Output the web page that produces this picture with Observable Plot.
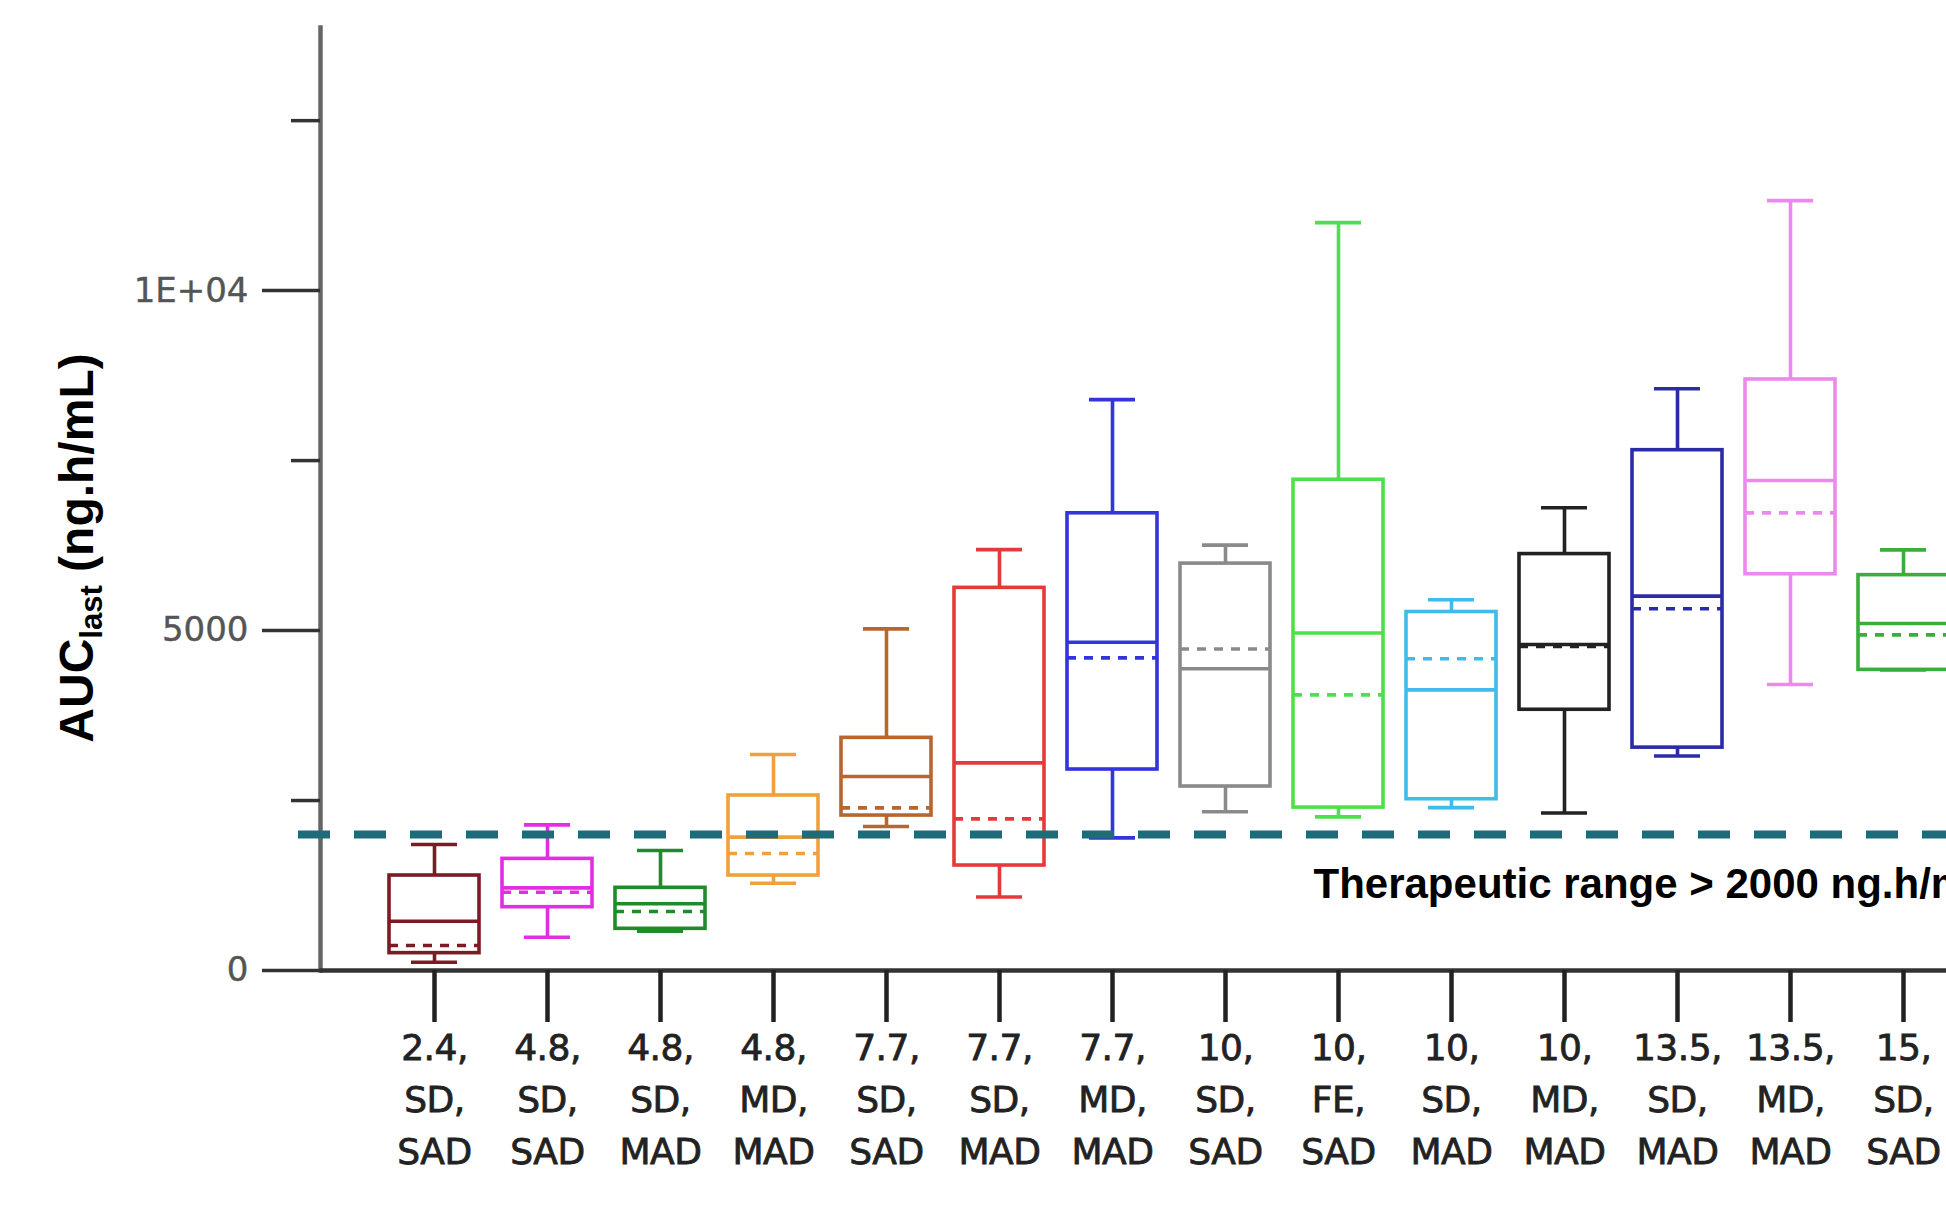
<!DOCTYPE html>
<html>
<head>
<meta charset="utf-8">
<script src="https://cdn.jsdelivr.net/npm/d3@7"></script>
<script src="https://cdn.jsdelivr.net/npm/@observablehq/plot@0.6"></script>
<style>
html, body { margin: 0; padding: 0; background: #fff; overflow: hidden; }
#chart { width: 1946px; height: 1210px; overflow: hidden; position: relative; background: #fff; }
#chart svg { max-width: none !important; }
</style>
</head>
<body>
<div id="chart"></div>
<script>
// Categories (dose, regimen, study)
const categories = [
  "2.4,\nSD,\nSAD", "4.8,\nSD,\nSAD", "4.8,\nSD,\nMAD", "4.8,\nMD,\nMAD",
  "7.7,\nSD,\nSAD", "7.7,\nSD,\nMAD", "7.7,\nMD,\nMAD", "10,\nSD,\nSAD",
  "10,\nFE,\nSAD", "10,\nSD,\nMAD", "10,\nMD,\nMAD", "13.5,\nSD,\nMAD",
  "13.5,\nMD,\nMAD", "15,\nSD,\nSAD"
];
// Box statistics (AUClast, ng.h/mL)
const whiskerLow  = [122, 490, 578, 1284, 2118, 1080, 1951, 2334, 2259, 2396, 2316, 3154, 4206, 4422];
const quartile1   = [255, 931, 613, 1397, 2279, 1544, 2956, 2706, 2396, 2519, 3835, 3278, 5828, 4422];
const medians     = [725, 1216, 981, 1961, 2853, 3054, 4828, 4438, 4965, 4127, 4794, 5506, 7207, 5103];
const means       = [368, 1152, 868, 1720, 2392, 2230, 4598, 4729, 4054, 4586, 4765, 5321, 6731, 4937];
const quartile3   = [1397, 1642, 1216, 2574, 3422, 5628, 6725, 5985, 7218, 5273, 6125, 7653, 8693, 5815];
const whiskerHigh = [1853, 2142, 1765, 3176, 5025, 6191, 8397, 6257, 11000, 5453, 6806, 8557, 11324, 6187];
const boxColors   = ["#7b1c24", "#e22ee2", "#1e8c2a", "#f0a03c", "#b8652e", "#e53a3a", "#3434dc",
                     "#8a8a8a", "#4ce04c", "#40bce8", "#222222", "#2b2ba8", "#ee88ee", "#3aae3a"];

// Axis ticks
const yMajorTicks = [0, 5000, 10000];
const yTickLabels = ["0", "5000", "1E+04"];
const yMinorTicks = [2500, 7500, 12500];

// Threshold
const threshold = 2000;
const thresholdLabel = "Therapeutic range > 2000 ng.h/mL";

const data = categories.map((c, i) => ({
  cat: c, lo: whiskerLow[i], q1: quartile1[i], med: medians[i], mean: means[i],
  q3: quartile3[i], hi: whiskerHigh[i], color: boxColors[i]
}));

const sw = 3.6;
const plot = Plot.plot({
  width: 2040,
  height: 1210,
  marginLeft: 320,
  marginRight: 24,
  marginTop: 27,
  marginBottom: 240,
  style: { background: "white", overflow: "visible", maxWidth: "none" },
  x: { type: "band", domain: categories, paddingInner: 0.204, paddingOuter: 0.601, label: null },
  y: { domain: [0, 13870], label: null },
  color: { type: "identity" },
  marks: [
    Plot.frame({ anchor: "left", stroke: "#666", strokeWidth: 4.5 }),
    Plot.axisY({ ticks: yMinorTicks, tickSize: 29, tickFormat: () => "", stroke: "#333", strokeWidth: 3.5, label: null }),
    Plot.axisY({
      ticks: yMajorTicks, tickSize: 58, tickPadding: 14,
      tickFormat: (d) => yTickLabels[yMajorTicks.indexOf(d)],
      fontSize: 34, fontFamily: "DejaVu Sans", fill: "#555", stroke: "#333", strokeWidth: 3.5, label: null,
      className: "ylab"
    }),
    Plot.ruleY([0], { stroke: "#333", strokeWidth: 4.5 }),
    Plot.axisX({
      tickSize: 52, tickPadding: 0, fontSize: 36, lineHeight: 1.45,
      fontFamily: "DejaVu Sans", fill: "#222", stroke: "#222", strokeWidth: 4.5, label: null,
      className: "xlab"
    }),
    // whiskers
    Plot.ruleX(data, { x: "cat", y1: "q3", y2: "hi", stroke: "color", strokeWidth: sw }),
    Plot.ruleX(data, { x: "cat", y1: "lo", y2: "q1", stroke: "color", strokeWidth: sw }),
    Plot.tickY(data, { x: "cat", y: "hi", stroke: "color", strokeWidth: sw, inset: 22 }),
    Plot.tickY(data, { x: "cat", y: "lo", stroke: "color", strokeWidth: sw, inset: 22 }),
    // boxes
    Plot.barY(data, { x: "cat", y1: "q1", y2: "q3", fill: "none", stroke: "color", strokeWidth: sw }),
    Plot.tickY(data, { x: "cat", y: "med", stroke: "color", strokeWidth: sw }),
    Plot.tickY(data, { x: "cat", y: "mean", stroke: "color", strokeWidth: sw, strokeDasharray: "9,8" }),
    // threshold
    Plot.ruleY([threshold], { stroke: "#1e6b7a", strokeWidth: 8, strokeDasharray: "32,24", insetLeft: -22 }),
    Plot.text([thresholdLabel], {
      frameAnchor: "left", y: () => 1270, dx: 993, textAnchor: "start",
      fontSize: 42, fontWeight: "bold", fontFamily: "Liberation Sans, Arial, sans-serif", fill: "#000"
    })
  ]
});
plot.style.maxWidth = "none";
plot.style.width = "2040px";
plot.style.height = "1210px";

// Slightly heavier tick labels, like the reference
d3.select(plot).selectAll("g[aria-label='x-axis tick label'] text, .xlab text")
  .attr("stroke", "#222").attr("stroke-width", 0.8).attr("letter-spacing", "-0.5");
d3.select(plot).selectAll("g[aria-label='y-axis tick label'] text")
  .attr("stroke", "#555").attr("stroke-width", 0.4);

// Y-axis title with subscript
const t = d3.select(plot).append("text")
  .attr("transform", "translate(93,548) rotate(-90)")
  .attr("text-anchor", "middle")
  .attr("fill", "#000")
  .style("font-family", "Liberation Sans, Arial, sans-serif")
  .style("font-weight", "bold")
  .style("font-size", "48px");
t.append("tspan").text("AUC");
t.append("tspan").style("font-size", "31px").attr("dy", 9).text("last");
t.append("tspan").attr("dy", -9).text(" (ng.h/mL)");

document.getElementById("chart").appendChild(plot);
</script>
</body>
</html>
